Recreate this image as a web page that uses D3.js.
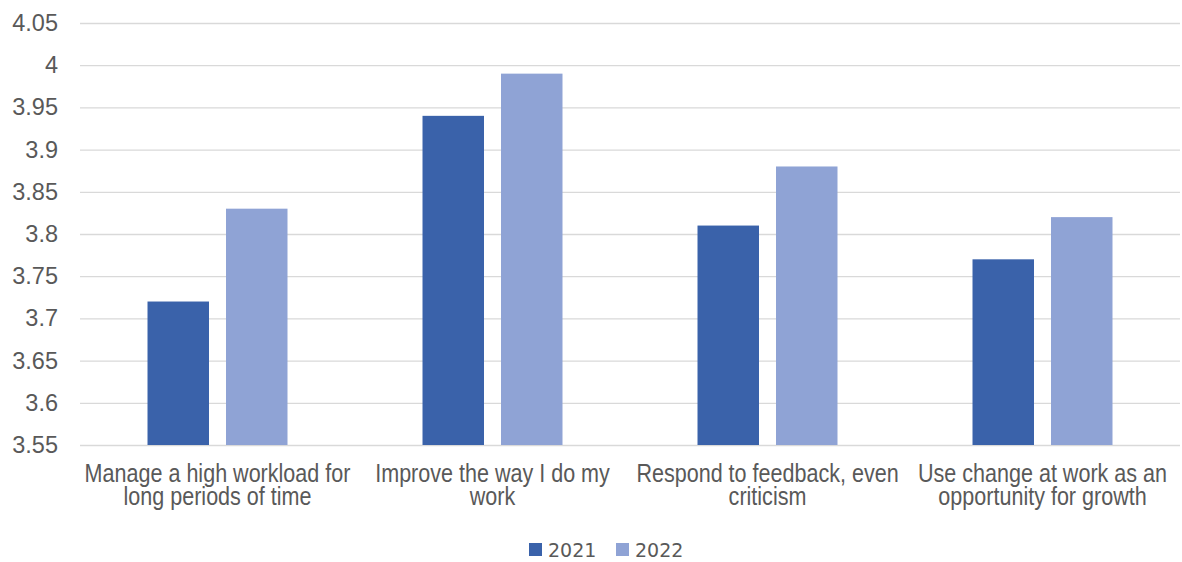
<!DOCTYPE html>
<html>
<head>
<meta charset="utf-8">
<script src="https://cdn.jsdelivr.net/npm/d3@7"></script>
<style>
  html, body { margin: 0; padding: 0; background: #fff; }
  svg { display: block; }
</style>
</head>
<body>
<svg id="chart" width="1182" height="562"></svg>
<script>
// Average self-rated scores by statement, 2021 vs 2022
const categories = [
  "Manage a high workload for long periods of time",
  "Improve the way I do my work",
  "Respond to feedback, even criticism",
  "Use change at work as an opportunity for growth"
];
const seriesNames = ["2021", "2022"];
const values2021 = [3.72, 3.94, 3.81, 3.77];
const values2022 = [3.83, 3.99, 3.88, 3.82];
const yTicks = [3.55, 3.6, 3.65, 3.7, 3.75, 3.8, 3.85, 3.9, 3.95, 4, 4.05];
const colors = ["#3A62AA", "#8FA3D5"];

const seriesValues = [values2021, values2022];
const rows = categories.map((c, i) => ({
  category: c,
  values: seriesNames.map((s, j) => ({ series: s, value: seriesValues[j][i] }))
}));

const svg = d3.select("#chart");
const plot = { left: 80, right: 1180, top: 23, bottom: 445 };
const textColor = "#595959";

const x0 = d3.scaleBand().domain(categories).range([plot.left, plot.right]).padding(0);
const x1 = d3.scaleBand().domain(seriesNames).range([0, x0.bandwidth()])
  .paddingInner(0.2166).paddingOuter(0.86);
const y = d3.scaleLinear().domain([3.55, 4.05]).range([plot.bottom, plot.top]);
const color = d3.scaleOrdinal().domain(seriesNames).range(colors);

// Horizontal gridlines with tick labels on the left
const yAxis = d3.axisLeft(y)
  .tickValues(yTicks)
  .tickSize(-(plot.right - plot.left))
  .tickPadding(22)
  .tickFormat(d => d3.format("")(+d.toFixed(2)));

const gy = svg.append("g")
  .attr("transform", `translate(${plot.left},0)`)
  .call(yAxis);
gy.select(".domain").remove();
gy.selectAll(".tick line").attr("stroke", "#D9D9D9").attr("stroke-width", 1.3);
gy.selectAll(".tick text")
  .attr("fill", textColor)
  .style("font-family", "'Liberation Sans', Arial, sans-serif")
  .style("font-size", "23.5px");

// Bars
const groups = svg.append("g").selectAll("g")
  .data(rows)
  .join("g")
  .attr("transform", d => `translate(${x0(d.category)},0)`);

groups.selectAll("rect")
  .data(d => d.values)
  .join("rect")
  .attr("x", d => x1(d.series))
  .attr("width", x1.bandwidth())
  .attr("y", d => y(d.value))
  .attr("height", d => y(3.55) - y(d.value))
  .attr("fill", d => color(d.series));

// Category labels: slightly condensed type, wrapped under each group
const labelScaleX = 0.845;
function wrap(textSel, width) {
  textSel.each(function () {
    const text = d3.select(this);
    const words = text.text().split(/\s+/);
    text.text(null);
    let line = [];
    let tspan = text.append("tspan").attr("x", 0).attr("dy", 0);
    for (const w of words) {
      line.push(w);
      tspan.text(line.join(" "));
      if (tspan.node().getComputedTextLength() > width && line.length > 1) {
        line.pop();
        tspan.text(line.join(" "));
        line = [w];
        tspan = text.append("tspan").attr("x", 0).attr("dy", "23.5px").text(w);
      }
    }
  });
}

svg.append("g").selectAll("text")
  .data(categories)
  .join("text")
  .attr("transform", d => `translate(${x0(d) + x0.bandwidth() / 2},482) scale(${labelScaleX},1)`)
  .attr("text-anchor", "middle")
  .attr("fill", textColor)
  .style("font-family", "'Liberation Sans', Arial, sans-serif")
  .style("font-size", "25.5px")
  .text(d => d)
  .call(wrap, 272 / labelScaleX);

// Legend
const legendItems = [
  { name: seriesNames[0], x: 529 },
  { name: seriesNames[1], x: 616 }
];
const legend = svg.append("g").selectAll("g")
  .data(legendItems)
  .join("g")
  .attr("transform", d => `translate(${d.x},543)`);
legend.append("rect")
  .attr("width", 13).attr("height", 13)
  .attr("fill", d => color(d.name));
legend.append("text")
  .attr("x", 19).attr("y", 14)
  .attr("fill", textColor)
  .style("font-family", "'DejaVu Sans', sans-serif")
  .style("font-size", "19px")
  .text(d => d.name);
</script>
</body>
</html>
